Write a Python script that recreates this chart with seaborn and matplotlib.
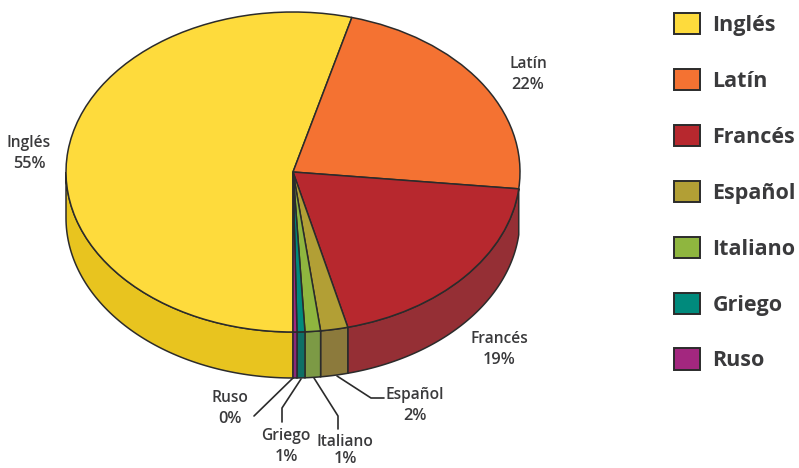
import matplotlib.pyplot as plt
import numpy as np
import seaborn as sns

languages = ["Inglés", "Latín", "Francés", "Español", "Italiano", "Griego", "Ruso"]
shares = [54.17, 22.5, 19.44, 1.94, 1.1, 0.56, 0.28]
shown_pct = ["55%", "22%", "19%", "2%", "1%", "1%", "0%"]
top_colors = ["#fedb3c", "#f47232", "#b7282e", "#b29f35", "#8fb63f", "#008a7c", "#a3277f"]
side_colors = ["#e8c41f", "#c95f2a", "#952f35", "#8c7a3c", "#7c9a45", "#0f6f65", "#8a2a78"]

LINE = "#2b2b2b"
TEXT = "#3a3a3c"

sns.set_theme(style="white")
plt.rcParams["font.family"] = ["Open Sans", "DejaVu Sans"]

CX, CY, RX, RY, DEPTH = 293, 172, 227, 160, 46


def px(x, y):
    """Picture pixel to data coordinates"""
    return (x - CX) / RX, (CY - y) / RY


fig, ax = plt.subplots(figsize=(7.99, 4.68), dpi=100)
fig.subplots_adjust(0, 0, 1, 1)

wedges, _ = ax.pie(
    shares,
    colors=sns.color_palette(top_colors),
    startangle=270,
    counterclock=False,
    wedgeprops={"edgecolor": LINE, "linewidth": 1.1},
)
ax.set_aspect("auto")
x0, y0 = px(0, 468)
x1, y1 = px(799, 0)
ax.set_xlim(x0, x1)
ax.set_ylim(y0, y1)
ax.axis("off")

# side wall, angles clockwise from the top
drop = DEPTH / RY
edges = 180 + np.cumsum([0] + shares) / sum(shares) * 360
for name, start, end, col in zip(languages, edges[:-1], edges[1:], side_colors):
    # Latin only touches the front by a sliver, the reference has no wall there
    if name == "Latín":
        continue
    ranges = [(max(start, 90), min(end, 270)), (max(start - 360, 90), min(end - 360, 270))]
    for lo, hi in ranges:
        if hi <= lo:
            continue
        t = np.radians(np.linspace(lo, hi, 80))
        xs = np.sin(t)
        ys = np.cos(t)
        ax.fill(
            np.r_[xs, xs[::-1]],
            np.r_[ys, ys[::-1] - drop],
            facecolor=col,
            edgecolor=LINE,
            linewidth=1.1,
            zorder=0,
        )

# labels
label_pos = {
    "Inglés": (29, 143),
    "Latín": (528, 64),
    "Francés": (499, 339),
    "Español": (415, 395),
    "Italiano": (345, 442),
    "Griego": (286, 436),
    "Ruso": (230, 398),
}
for name, pct in zip(languages, shown_pct):
    lx, ly = label_pos[name]
    gap = 17 if name == "Italiano" else 21
    ax.text(*px(lx, ly), name, ha="center", va="center", fontsize=11.2,
            fontweight="semibold", color=TEXT)
    ax.text(*px(lx, ly + gap), pct, ha="center", va="center", fontsize=11.8,
            fontweight="semibold", color=TEXT)

# leader lines
leaders = [
    [(293, 378), (254, 416)],
    [(301, 379), (282, 408), (282, 422)],
    [(314, 378), (338, 416), (338, 429)],
    [(337, 376), (371, 398), (384, 398)],
]
for pts in leaders:
    xy = np.array([px(*p) for p in pts])
    ax.plot(xy[:, 0], xy[:, 1], color=LINE, linewidth=1.2)

leg = ax.legend(
    wedges,
    languages,
    loc="upper left",
    bbox_to_anchor=(674 / 799, 1 - 13 / 468),
    bbox_transform=fig.transFigure,
    frameon=False,
    borderpad=0,
    borderaxespad=0,
    prop={"family": ["Open Sans", "DejaVu Sans"], "weight": "bold", "size": 15.5},
    handlelength=1.23,
    handleheight=1.15,
    handletextpad=0.55,
    labelspacing=1.53,
    labelcolor=TEXT,
)
for h in leg.get_patches():
    h.set_edgecolor(LINE)
    h.set_linewidth(1.4)

fig.savefig("out.png", dpi=100)
